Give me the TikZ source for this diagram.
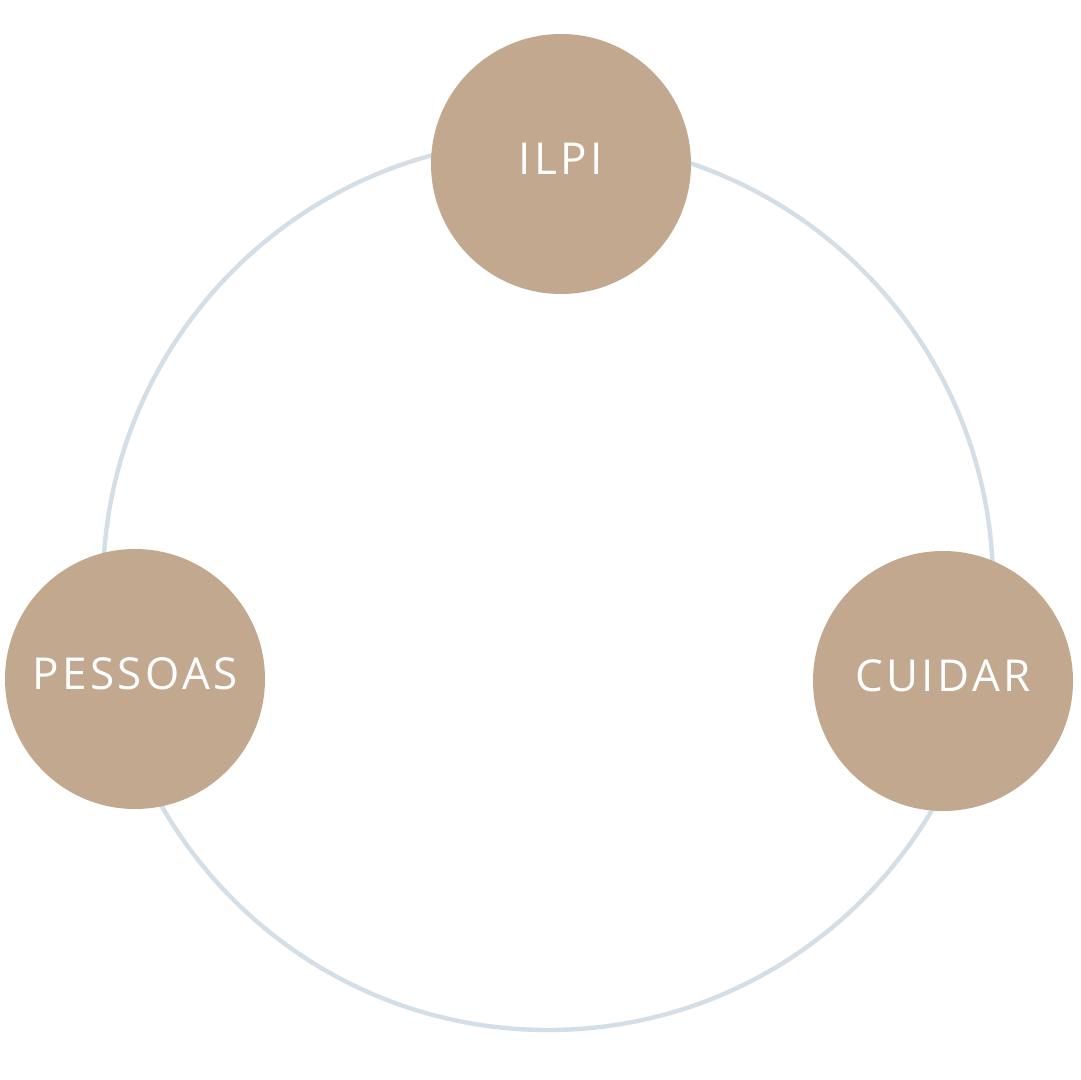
\documentclass[tikz,border=0pt]{standalone}
\usepackage{fontspec}
\newfontfamily\labelfont[LetterSpace=8]{Open Sans}
\definecolor{ringgray}{HTML}{D3DEE7}
\definecolor{tan}{HTML}{C3A890}
\begin{document}
\begin{tikzpicture}[x=0.5pt,y=-0.5pt]
    \tikzset{topic/.style={circle,fill=tan,draw=none,minimum size=130pt,inner sep=0pt,
        text=white,text depth=5pt,font=\labelfont\fontsize{22}{26}\selectfont},
    ring/.style={draw=ringgray,line width=2.2pt}}
    \useasboundingbox (0,0) rectangle (1080,1080);
    \node[ring,circle,minimum size=445pt,inner sep=0pt] (cycle) at (548,585) {};
    \node[topic] (ilpi) at (561,164) {ILPI};
    \node[topic] (pessoas) at (135,679) {PESSOAS};
    \node[topic] (cuidar) at (943,681) {CUIDAR};
\end{tikzpicture}
\end{document}
